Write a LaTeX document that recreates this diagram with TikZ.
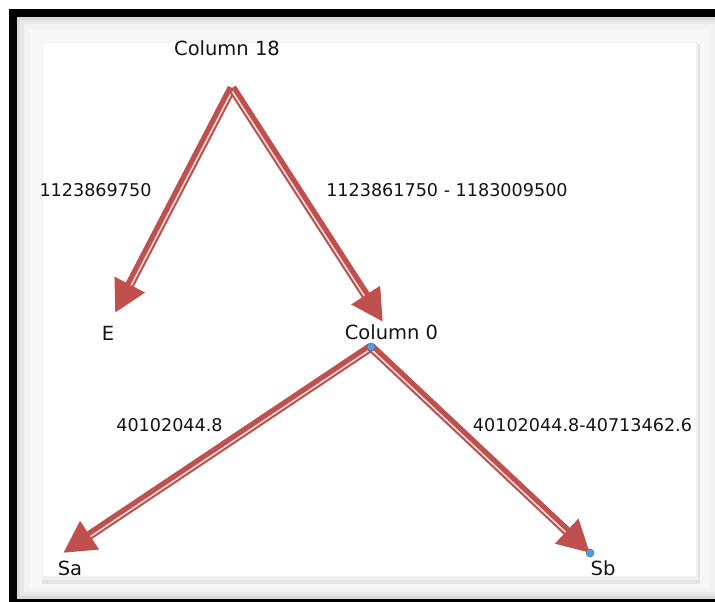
\documentclass[tikz,border=0pt]{standalone}
\usepackage{fontspec}
\setmainfont{DejaVu Sans}
\usetikzlibrary{arrows.meta,calc}
\definecolor{arrowred}{HTML}{C0504D}
\definecolor{innerpink}{HTML}{F6E4E3}
\definecolor{dotblue}{HTML}{5B9BD5}
\definecolor{dotedge}{HTML}{3A6FB0}
\definecolor{textcol}{HTML}{141414}
\tikzset{
  nodelabel/.style={font=\fontsize{19.5}{22}\selectfont, text=textcol, inner sep=0pt},
  edgelabel/.style={font=\fontsize{17.6}{20}\selectfont, text=textcol, inner sep=0pt},
  redarrow/.style={draw=arrowred, line width=9pt, -{Triangle[length=32pt,width=32pt]}},
  innerline/.style={draw=innerpink, line width=1.5pt, shorten >=32pt, shorten <=3pt},
  bluedot/.style={circle, fill=dotblue, draw=dotedge, line width=0.5pt, inner sep=0pt, minimum size=8pt}
}
\begin{document}
\begin{tikzpicture}[x=1pt,y=-1pt]
\useasboundingbox (0,0) rectangle (715,602);
% frame
\fill[white] (0,0) rectangle (720,606);
\fill[black] (9,9) rectangle (720,606);
\fill[gray!30] (17,17) rectangle (720,599);
\fill[gray!18] (20,20) rectangle (720,596);
\fill[gray!10] (24,24) rectangle (720,592);
\fill[gray!6] (30,30) rectangle (709,588);
\fill[gray!22] (42,44) rectangle (700,584);
\fill[gray!12] (42,42) rectangle (698,580);
\fill[white] (43,43) rectangle (696,576);
% anchor coordinates
\coordinate (c18out) at (232,88);
\coordinate (etip) at (115,313);
\coordinate (c0tip) at (383,322);
\coordinate (c0out) at (371,347);
\coordinate (satip) at (63,553);
\coordinate (sbtip) at (590,553);
% arrows
\draw[redarrow] (c18out) -- (etip);
\draw[innerline] ($(c18out)!1.6pt!90:(etip)$) -- ($(etip)!1.6pt!-90:(c18out)$);
\draw[redarrow] (c18out) -- (c0tip);
\draw[innerline] ($(c18out)!1.6pt!-90:(c0tip)$) -- ($(c0tip)!1.6pt!90:(c18out)$);
\draw[redarrow] (c0out) -- (satip);
\draw[innerline] ($(c0out)!1.6pt!90:(satip)$) -- ($(satip)!1.6pt!-90:(c0out)$);
\draw[redarrow] (c0out) -- (sbtip);
\draw[innerline] ($(c0out)!1.6pt!-90:(sbtip)$) -- ($(sbtip)!1.6pt!90:(c0out)$);
% node labels
\node[nodelabel] (col18) at (227,48) {Column 18};
\node[nodelabel] (e) at (108,333) {E};
\node[nodelabel] (col0) at (391.5,332) {Column 0};
\node[nodelabel] (sa) at (70,568) {Sa};
\node[nodelabel] (sb) at (603,568) {Sb};
% edge labels
\node[edgelabel] (l1) at (95.5,190) {1123869750};
\node[edgelabel] (l2) at (447,190) {1123861750 - 1183009500};
\node[edgelabel] (l3) at (169.5,425) {40102044.8};
\node[edgelabel] (l4) at (582.5,425) {40102044.8-40713462.6};
% blue dots
\node[bluedot] (d1) at (c0out) {};
\node[bluedot] (d2) at (sbtip) {};
\end{tikzpicture}
\end{document}
